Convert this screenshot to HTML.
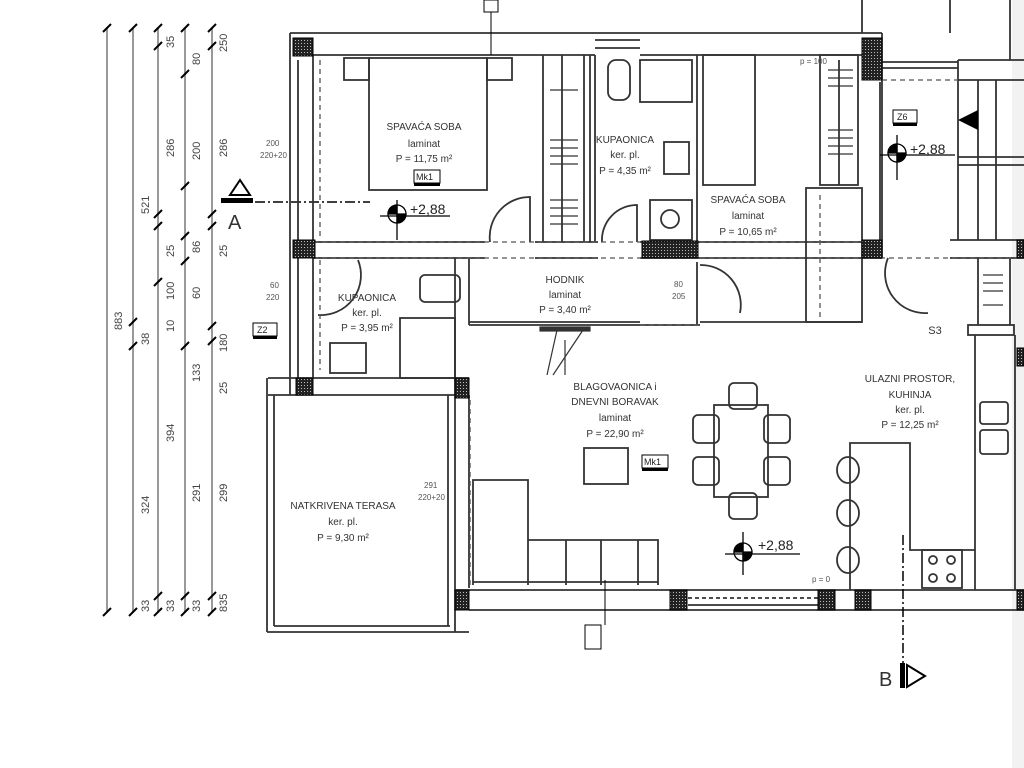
<!DOCTYPE html>
<html><head><meta charset="utf-8"><style>
html,body{margin:0;padding:0;background:#fff;}
svg{display:block;font-family:"Liberation Sans",sans-serif;}
</style></head><body>
<svg width="1024" height="768" viewBox="0 0 1024 768">
<defs>
<pattern id="h" width="3" height="3" patternUnits="userSpaceOnUse"><rect width="3" height="3" fill="#222"/><rect x="1" y="1" width="1" height="1" fill="#bbb"/></pattern>
</defs>
<rect x="1012" y="0" width="12" height="768" fill="#f2f2f2"/>
<g stroke="#999" stroke-width="2">
<line x1="107" y1="28" x2="107" y2="612"/><line x1="133" y1="28" x2="133" y2="612"/>
<line x1="158" y1="28" x2="158" y2="612"/><line x1="185" y1="28" x2="185" y2="612"/>
<line x1="212" y1="28" x2="212" y2="612"/>
</g>
<g stroke="#000" stroke-width="2">
<path d="M103 32l8-8M103 616l8-8M129 32l8-8M129 616l8-8M154 32l8-8M154 50l8-8M154 218l8-8M154 230l8-8M154 286l8-8M154 616l8-8M154 600l8-8
M181 32l8-8M181 78l8-8M181 190l8-8M181 240l8-8M181 265l8-8M181 350l8-8M181 616l8-8M181 600l8-8
M208 32l8-8M208 50l8-8M208 218l8-8M208 230l8-8M208 330l8-8M208 345l8-8M208 616l8-8M208 600l8-8M129 326l8-8M129 350l8-8"/>
</g>
<g font-size="11" fill="#444">
<text transform="translate(122,330) rotate(-90)">883</text>
<text transform="translate(149,214) rotate(-90)">521</text>
<text transform="translate(149,345) rotate(-90)">38</text>
<text transform="translate(149,514) rotate(-90)">324</text>
<text transform="translate(149,612) rotate(-90)">33</text>
<text transform="translate(174,48) rotate(-90)">35</text>
<text transform="translate(174,157) rotate(-90)">286</text>
<text transform="translate(174,257) rotate(-90)">25</text>
<text transform="translate(174,300) rotate(-90)">100</text>
<text transform="translate(174,332) rotate(-90)">10</text>
<text transform="translate(174,442) rotate(-90)">394</text>
<text transform="translate(174,612) rotate(-90)">33</text>
<text transform="translate(200,65) rotate(-90)">80</text>
<text transform="translate(200,160) rotate(-90)">200</text>
<text transform="translate(200,253) rotate(-90)">86</text>
<text transform="translate(200,299) rotate(-90)">60</text>
<text transform="translate(200,382) rotate(-90)">133</text>
<text transform="translate(200,502) rotate(-90)">291</text>
<text transform="translate(200,612) rotate(-90)">33</text>
<text transform="translate(227,52) rotate(-90)">250</text>
<text transform="translate(227,157) rotate(-90)">286</text>
<text transform="translate(227,257) rotate(-90)">25</text>
<text transform="translate(227,352) rotate(-90)">180</text>
<text transform="translate(227,394) rotate(-90)">25</text>
<text transform="translate(227,502) rotate(-90)">299</text>
<text transform="translate(227,612) rotate(-90)">835</text>
</g>
<path d="M230 195l10-15l10 15z" fill="none" stroke="#000" stroke-width="2"/>
<rect x="221" y="198" width="32" height="5" fill="#000"/>
<line x1="255" y1="202" x2="370" y2="202" stroke="#000" stroke-width="1.5" stroke-dasharray="10,3,2,3"/>
<text x="228" y="229" font-size="20" fill="#333">A</text>
<g fill="none" stroke="#333" stroke-width="1.8">
<line x1="290" y1="33" x2="882" y2="33"/>
<line x1="313" y1="55" x2="595" y2="55"/><line x1="640" y1="55" x2="882" y2="55"/>
<line x1="595" y1="40" x2="640" y2="40"/><line x1="595" y1="48" x2="640" y2="48"/>
<line x1="290" y1="33" x2="290" y2="395"/><line x1="313" y1="55" x2="313" y2="240"/>
<line x1="298" y1="60" x2="298" y2="380"/>
<line x1="313" y1="258" x2="313" y2="378"/>
<line x1="882" y1="33" x2="882" y2="258"/>
<line x1="313" y1="242" x2="485" y2="242"/><line x1="313" y1="258" x2="485" y2="258"/>
<line x1="535" y1="242" x2="598" y2="242"/><line x1="535" y1="258" x2="598" y2="258"/>
<line x1="640" y1="242" x2="882" y2="242"/><line x1="640" y1="258" x2="882" y2="258"/>
<line x1="455" y1="258" x2="455" y2="378"/><line x1="469" y1="258" x2="469" y2="325"/>
<line x1="469" y1="325" x2="700" y2="325"/>
<line x1="469" y1="322" x2="640" y2="322"/>
<line x1="700" y1="322" x2="862" y2="322"/>
<line x1="697" y1="262" x2="697" y2="325"/>
<line x1="455" y1="378" x2="455" y2="632"/><line x1="469" y1="395" x2="469" y2="588"/>
<line x1="268" y1="378" x2="469" y2="378"/><line x1="268" y1="395" x2="455" y2="395"/>
<line x1="267" y1="378" x2="267" y2="632"/><line x1="274" y1="395" x2="274" y2="626"/>
<line x1="267" y1="632" x2="469" y2="632"/><line x1="274" y1="626" x2="450" y2="626"/>
<line x1="448" y1="395" x2="448" y2="626"/>
<line x1="455" y1="590" x2="1024" y2="590"/><line x1="469" y1="610" x2="1024" y2="610"/>
<line x1="688" y1="605" x2="818" y2="605"/>
<line x1="688" y1="598" x2="818" y2="598" stroke-dasharray="4,3"/>
<rect x="344" y="58" width="25" height="22"/><rect x="487" y="58" width="25" height="22"/>
<rect x="369" y="58" width="118" height="132"/>
<line x1="543" y1="55" x2="543" y2="242"/><line x1="590" y1="55" x2="590" y2="242"/>
<line x1="562" y1="55" x2="562" y2="242"/><line x1="584" y1="55" x2="584" y2="242"/>
<line x1="595" y1="55" x2="595" y2="242"/>
<rect x="608" y="60" width="22" height="40" rx="8"/>
<rect x="640" y="60" width="52" height="42"/>
<rect x="664" y="142" width="25" height="32"/>
<rect x="650" y="200" width="42" height="40"/>
<circle cx="670" cy="219" r="9"/>
<line x1="697" y1="55" x2="697" y2="242"/>
<rect x="703" y="55" width="52" height="130"/>
<rect x="820" y="55" width="38" height="130"/><line x1="839" y1="60" x2="839" y2="185"/>
<rect x="806" y="188" width="56" height="134"/>
<line x1="862" y1="0" x2="862" y2="33"/><line x1="950" y1="0" x2="950" y2="33"/>
<line x1="1010" y1="0" x2="1010" y2="60"/>
<line x1="882" y1="62" x2="958" y2="62"/><line x1="882" y1="68" x2="958" y2="68"/>
<line x1="958" y1="60" x2="1024" y2="60"/><line x1="958" y1="80" x2="1024" y2="80"/>
<line x1="958" y1="60" x2="958" y2="240"/><line x1="978" y1="80" x2="978" y2="240"/><line x1="996" y1="80" x2="996" y2="240"/>
<line x1="958" y1="157" x2="1024" y2="157"/><line x1="958" y1="165" x2="1024" y2="165"/>
<line x1="950" y1="240" x2="1024" y2="240"/><line x1="950" y1="258" x2="1024" y2="258"/>
<line x1="880" y1="82" x2="880" y2="240"/>
<line x1="978" y1="258" x2="978" y2="325"/><line x1="1010" y1="258" x2="1010" y2="325"/>
<rect x="968" y="325" width="46" height="10"/>
<line x1="975" y1="335" x2="975" y2="590"/><line x1="1015" y1="335" x2="1015" y2="590"/>
<rect x="980" y="402" width="28" height="22" rx="3"/><rect x="980" y="430" width="28" height="24" rx="3"/>
<polyline points="850,590 850,443 910,443 910,550 975,550"/>
<rect x="922" y="550" width="40" height="38"/>
<circle cx="933" cy="560" r="4"/><circle cx="951" cy="560" r="4"/><circle cx="933" cy="578" r="4"/><circle cx="951" cy="578" r="4"/>
<ellipse cx="848" cy="470" rx="11" ry="13"/><ellipse cx="848" cy="513" rx="11" ry="13"/><ellipse cx="848" cy="560" rx="11" ry="13"/>
<rect x="714" y="405" width="54" height="92"/>
<rect x="729" y="383" width="28" height="26" rx="5"/><rect x="729" y="493" width="28" height="26" rx="5"/>
<rect x="693" y="415" width="26" height="28" rx="5"/><rect x="693" y="457" width="26" height="28" rx="5"/>
<rect x="764" y="415" width="26" height="28" rx="5"/><rect x="764" y="457" width="26" height="28" rx="5"/>
<rect x="584" y="448" width="44" height="36"/>
<path d="M473 585V480h55v105M528 540h38v45M566 540h35v45M601 540h37v45M638 540h20v45M473 582h185"/>
<rect x="420" y="275" width="40" height="27" rx="5"/>
<rect x="400" y="318" width="55" height="60"/>
<rect x="330" y="343" width="36" height="30"/>
<path d="M490 242a40 40 0 0 1 40 -45v45"/>
<path d="M602 242a35 35 0 0 1 35 -37v37"/>
<path d="M318 315a40 40 0 0 0 40 -55"/>
<path d="M700 265a40 40 0 0 1 40 48"/>
<path d="M888 258a40 40 0 0 0 40 55"/>
</g>
<g stroke="#555" stroke-width="1.3" stroke-dasharray="5,4" fill="none">
<line x1="313" y1="242" x2="880" y2="242"/><line x1="313" y1="258" x2="1024" y2="258"/>
<line x1="320" y1="60" x2="320" y2="240"/><line x1="320" y1="260" x2="320" y2="370"/>
<line x1="470" y1="400" x2="470" y2="585"/>
<line x1="640" y1="325" x2="700" y2="325"/>
<line x1="820" y1="195" x2="820" y2="320"/>
<line x1="882" y1="80" x2="958" y2="80"/>
</g>
<g fill="url(#h)" stroke="#000" stroke-width="1">
<rect x="293" y="38" width="20" height="18"/><rect x="293" y="240" width="22" height="18"/>
<rect x="862" y="38" width="20" height="42"/><rect x="862" y="240" width="20" height="18"/>
<rect x="642" y="241" width="56" height="17"/><rect x="455" y="378" width="14" height="20"/>
<rect x="296" y="378" width="17" height="17"/><rect x="455" y="590" width="14" height="20"/>
<rect x="670" y="590" width="17" height="20"/><rect x="818" y="590" width="17" height="20"/>
<rect x="855" y="590" width="16" height="20"/><rect x="1017" y="590" width="7" height="20"/>
<rect x="1017" y="240" width="7" height="18"/><rect x="1017" y="348" width="7" height="18"/>
</g>
<g stroke="#333" stroke-width="1.2">
<path d="M828 70h25M828 78h25M828 86h25M828 130h25M828 138h25M828 146h25M828 154h25M550 90h28M550 140h28M550 148h28M550 156h28M550 164h28M550 200h28M550 208h28M550 216h28M550 224h28M983 275h20M983 283h20M983 291h20M983 305h20"/>
<path d="M583 330l-30 45M557 330l-10 45M565 340v35" fill="none"/>
<rect x="540" y="327" width="50" height="4" fill="#333"/>
</g>
<path d="M958 120l20-10v20z" fill="#000"/>
<g stroke="#000" stroke-width="1.3">
<circle cx="397" cy="214" r="9" fill="#fff"/><path d="M397 205a9 9 0 0 0 -9 9h9zM397 214h9a9 9 0 0 1 -9 9z" fill="#000"/>
<line x1="397" y1="200" x2="397" y2="240"/><line x1="380" y1="216" x2="450" y2="216"/>
<circle cx="897" cy="153" r="9" fill="#fff"/><path d="M897 144a9 9 0 0 0 -9 9h9zM897 153h9a9 9 0 0 1 -9 9z" fill="#000"/>
<line x1="897" y1="135" x2="897" y2="180"/><line x1="880" y1="155" x2="955" y2="155"/>
<circle cx="743" cy="552" r="9" fill="#fff"/><path d="M743 543a9 9 0 0 0 -9 9h9zM743 552h9a9 9 0 0 1 -9 9z" fill="#000"/>
<line x1="743" y1="532" x2="743" y2="575"/><line x1="725" y1="554" x2="800" y2="554"/>
</g>
<g font-size="14" fill="#222">
<text x="410" y="214">+2,88</text><text x="910" y="154">+2,88</text><text x="758" y="550">+2,88</text>
</g>
<g font-size="10" fill="#333" text-anchor="middle">
<text x="424" y="130">SPAVAĆA SOBA</text><text x="424" y="147">laminat</text><text x="424" y="162">P = 11,75 m²</text>
<text x="625" y="143">KUPAONICA</text><text x="625" y="158">ker. pl.</text><text x="625" y="174">P = 4,35 m²</text>
<text x="748" y="203">SPAVAĆA SOBA</text><text x="748" y="219">laminat</text><text x="748" y="235">P = 10,65 m²</text>
<text x="565" y="283">HODNIK</text><text x="565" y="298">laminat</text><text x="565" y="313">P = 3,40 m²</text>
<text x="367" y="301">KUPAONICA</text><text x="367" y="316">ker. pl.</text><text x="367" y="331">P = 3,95 m²</text>
<text x="615" y="390">BLAGOVAONICA i</text><text x="615" y="405">DNEVNI BORAVAK</text><text x="615" y="421">laminat</text><text x="615" y="437">P = 22,90 m²</text>
<text x="910" y="382">ULAZNI PROSTOR,</text><text x="910" y="398">KUHINJA</text><text x="910" y="413">ker. pl.</text><text x="910" y="428">P = 12,25 m²</text>
<text x="343" y="509">NATKRIVENA TERASA</text><text x="343" y="525">ker. pl.</text><text x="343" y="541">P = 9,30 m²</text>
<text x="935" y="334" font-size="11">S3</text>
</g>
<g font-size="8" fill="#555">
<text x="266" y="146">200</text><text x="260" y="158">220+20</text>
<text x="270" y="288">60</text><text x="266" y="300">220</text>
<text x="424" y="488">291</text><text x="418" y="500">220+20</text>
<text x="674" y="287">80</text><text x="672" y="299">205</text>
<text x="800" y="64">p = 100</text><text x="812" y="582">p = 0</text>
</g>
<g font-size="9" fill="#222">
<rect x="414" y="170" width="26" height="13" fill="#fff" stroke="#000"/><rect x="414" y="183" width="26" height="3" fill="#000"/><text x="416" y="180">Mk1</text>
<rect x="642" y="455" width="26" height="13" fill="#fff" stroke="#000"/><rect x="642" y="468" width="26" height="3" fill="#000"/><text x="644" y="465">Mk1</text>
<rect x="253" y="323" width="24" height="13" fill="#fff" stroke="#000"/><rect x="253" y="336" width="24" height="3" fill="#000"/><text x="257" y="333">Z2</text>
<rect x="893" y="110" width="24" height="13" fill="#fff" stroke="#000"/><rect x="893" y="123" width="24" height="3" fill="#000"/><text x="897" y="120">Z6</text>
<rect x="585" y="625" width="16" height="24" fill="#fff" stroke="#000"/>
<rect x="484" y="0" width="14" height="12" fill="#fff" stroke="#000"/>
</g>
<line x1="605" y1="580" x2="605" y2="625" stroke="#000"/>
<line x1="491" y1="12" x2="491" y2="55" stroke="#000"/>
<line x1="903" y1="535" x2="903" y2="665" stroke="#000" stroke-width="1.5" stroke-dasharray="10,3,2,3"/>
<rect x="900" y="663" width="5" height="25" fill="#000"/>
<path d="M907 665l18 11l-18 11z" fill="none" stroke="#000" stroke-width="2"/>
<text x="879" y="686" font-size="20" fill="#333">B</text>
</svg>
</body></html>
